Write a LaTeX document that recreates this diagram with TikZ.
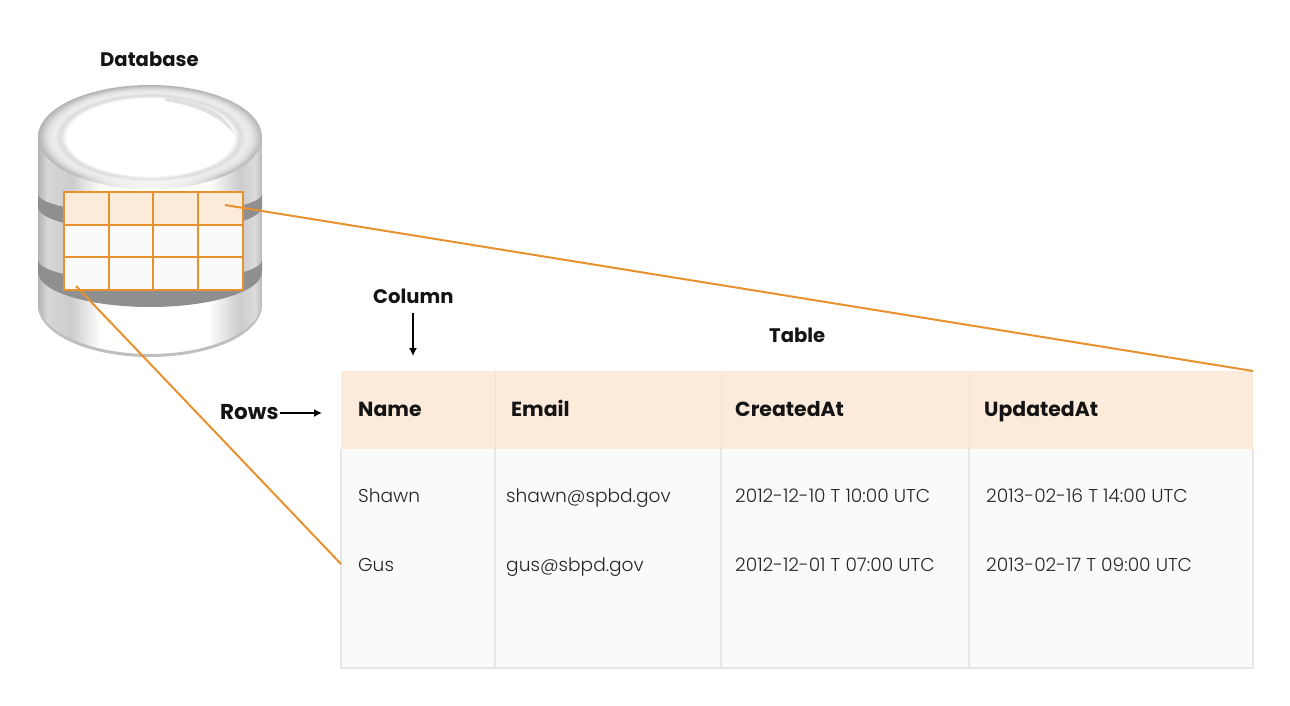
\documentclass[tikz,border=0pt]{standalone}
\usepackage{fontspec}
\setmainfont{Poppins}
\newfontfamily\lightfont{Poppins Light}
\usetikzlibrary{arrows.meta,fadings}
\definecolor{linkorange}{HTML}{E8912F}
\definecolor{headfill}{HTML}{FCEBDB}
\definecolor{bodyfill}{HTML}{FAFAFB}
\definecolor{gridgrey}{HTML}{E6E6E6}
\definecolor{bandgrey}{HTML}{8F8F8F}
\pgfdeclarehorizontalshading{cylside}{100bp}{
 color(0bp)=(black!30); color(25bp)=(black!30); color(27bp)=(black!16); color(32.5bp)=(black!20); color(39bp)=(white); color(63bp)=(white); color(70bp)=(black!20); color(73.5bp)=(black!14); color(75bp)=(black!28); color(100bp)=(black!28)}
\pgfdeclareradialshading{discshade}{\pgfpoint{0bp}{0bp}}{
 color(0bp)=(white); color(18.6bp)=(white); color(20bp)=(black!14); color(21.5bp)=(black!7); color(23bp)=(black!12); color(25bp)=(black!30); color(50bp)=(black!30)}
\tikzset{
 tbllabel/.style={anchor=base west,inner sep=0pt,font=\fontsize{19.6}{22}\selectfont\bfseries,text=black!92},
 celltext/.style={anchor=base west,inner sep=0pt,font=\lightfont\fontsize{18.6}{20}\selectfont,text=black!85},
 blackarrow/.style={draw=black,line width=1.4pt,-{Latex[length=8pt,width=8pt]}},
 orangelink/.style={draw=linkorange,line width=2pt},
 tablesep/.style={draw=gridgrey,line width=1.2pt},
 minigrid/.style={draw=linkorange,line width=1.6pt},
 headtext/.style={tbllabel,font=\fontsize{20.4}{22}\selectfont\bfseries},
}
\begin{document}
\begin{tikzpicture}[x=1pt,y=-1pt]
\useasboundingbox (0,0) rectangle (1290,706);
% cylinder body
\begin{scope}
 \clip (38,137) -- (38,305) arc[start angle=180,end angle=360,x radius=112,y radius=-52] -- (262,137) -- cycle;
 \shade[shading=cylside] (38,80) rectangle (262,360);
 \fill[black!25] (38,305) arc[start angle=180,end angle=360,x radius=112,y radius=-52] -- (262,302) arc[start angle=360,end angle=180,x radius=112,y radius=-52] -- cycle;
\end{scope}
% dark bands
\fill[bandgrey] (38,194) arc[start angle=180,end angle=360,x radius=112,y radius=-20] -- (262,207) arc[start angle=360,end angle=180,x radius=112,y radius=-25] -- cycle;
\fill[bandgrey] (38,260) arc[start angle=180,end angle=360,x radius=112,y radius=-22] -- (262,272) arc[start angle=360,end angle=180,x radius=112,y radius=-35] -- cycle;
% top disc
\shade[shading=discshade] (150,137) ellipse[x radius=112,y radius=52];
\begin{scope}
 \clip (150,137) ellipse[x radius=112,y radius=52];
 \fill[white,path fading=north] (38,175) rectangle (262,190);
\end{scope}
\fill[black!12] (165,98) .. controls (198,100) and (226,112) .. (234,134) .. controls (218,114) and (192,105) .. (165,101) -- cycle;
% mini table
\fill[headfill] (64,192) rectangle (243,225);
\fill[bodyfill] (64,225) rectangle (243,290);
\foreach \px in {109,153,198} \draw[minigrid] (\px,192) -- (\px,290);
\foreach \py in {225,257} \draw[minigrid] (64,\py) -- (243,\py);
\draw[minigrid] (64,192) rectangle (243,290);
% big table
\fill[bodyfill] (341,449) rectangle (1253,668);
\fill[headfill] (341,371) rectangle (1253,449);
\draw[tablesep] (341,449) -- (341,668) -- (1253,668) -- (1253,449);
\foreach \px in {495,721,969} {
 \draw[draw=headfill!96!black,line width=.9pt] (\px,371) -- (\px,449);
 \draw[tablesep] (\px,449) -- (\px,668);
}
% anchors for connectors
\coordinate (rowcell) at (225,205);
\coordinate (tablecorner) at (1253,371);
\coordinate (lowcell) at (76,286);
\coordinate (tableside) at (341,564);
\draw[orangelink] (rowcell) -- (tablecorner);
\draw[orangelink] (lowcell) -- (tableside);
% labels
\node[tbllabel] (dblabel) at (100,66.5) {Database};
\node[tbllabel] (collabel) at (373,303.5) {Column};
\node[tbllabel] (tbllabelnode) at (769,342) {Table};
\node[tbllabel,font=\fontsize{21.5}{22}\selectfont\bfseries] (rowslabel) at (220,419) {Rows};
\coordinate (coltail) at (413,313);
\coordinate (colhead) at (413,356);
\coordinate (rowtail) at (280,413);
\coordinate (rowhead) at (322,413);
\draw[blackarrow] (coltail) -- (colhead);
\draw[blackarrow] (rowtail) -- (rowhead);
\node[headtext] (h1) at (358,416) {Name};
\node[headtext] (h2) at (511,416) {Email};
\node[headtext] (h3) at (735,416) {CreatedAt};
\node[headtext] (h4) at (984,416) {UpdatedAt};
\node[celltext] (a1) at (358,502) {Shawn};
\node[celltext] (a2) at (506,502) {shawn@spbd.gov};
\node[celltext] (a3) at (735,502) {2012-12-10 T 10:00 UTC};
\node[celltext] (a4) at (986,502) {2013-02-16 T 14:00 UTC};
\node[celltext] (b1) at (358,571) {Gus};
\node[celltext] (b2) at (506,571) {gus@sbpd.gov};
\node[celltext] (b3) at (735,571) {2012-12-01 T 07:00 UTC};
\node[celltext] (b4) at (986,571) {2013-02-17 T 09:00 UTC};
\end{tikzpicture}
\end{document}
